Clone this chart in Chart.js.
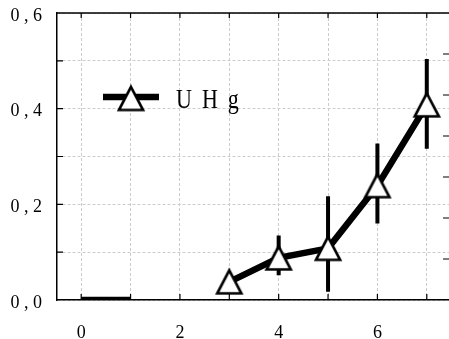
<!DOCTYPE html>
<html>
<head>
<meta charset="utf-8">
<script src="https://cdn.jsdelivr.net/npm/chart.js@4"></script>
<style>
  html, body { margin: 0; padding: 0; background: #fff; }
  #wrap { width: 449px; height: 339px; }
</style>
</head>
<body>
<div id="wrap"><canvas id="chart"></canvas></div>
<script>
// data
var seriesName = 'UHg';
var xValues = [3, 4, 5, 6, 7];
var yValues = [0.038, 0.088, 0.108, 0.239, 0.408];
var errLow = [null, 0.052, 0.017, 0.16, 0.316];
var errHigh = [null, 0.135, 0.217, 0.327, 0.504];
var baseX = [0, 1];
var baseY = [0, 0];
var xLabels = [0, 2, 4, 6];
var yLabels = [0, 0.2, 0.4, 0.6];

// open triangle marker
function makeTriangle() {
    var c = document.createElement('canvas');
    c.width = 32; c.height = 32;
    var g = c.getContext('2d');
    g.beginPath();
    g.moveTo(16, 4.5);
    g.lineTo(28, 27.5);
    g.lineTo(4, 27.5);
    g.closePath();
    g.fillStyle = '#fff';
    g.fill();
    g.lineWidth = 2.7;
    g.strokeStyle = '#000';
    g.stroke();
    return c;
}
var tri = makeTriangle();

var serif = '"Liberation Serif", "Times New Roman", serif';

function noPad(s) {
    s.paddingTop = 0; s.paddingBottom = 0;
    s.paddingLeft = 0; s.paddingRight = 0;
}

var frame = {
    id: 'frame',
    beforeDatasetsDraw(chart) {
        var ctx = chart.ctx, a = chart.chartArea;
        var x = chart.scales.x, y = chart.scales.y, y2 = chart.scales.y2;
        ctx.save();
        ctx.strokeStyle = '#000';
        // top line
        ctx.lineWidth = 1.5;
        ctx.beginPath();
        ctx.moveTo(a.left, a.top);
        ctx.lineTo(a.right, a.top);
        ctx.stroke();
        // inward ticks
        ctx.lineWidth = 1.2;
        ctx.beginPath();
        for (var i = 1; i <= 5; i++) {
            var py = y.getPixelForValue(i / 10);
            ctx.moveTo(a.left, py); ctx.lineTo(a.left + 6, py);
        }
        for (var k = 0; k <= 7; k++) {
            var px = x.getPixelForValue(k);
            ctx.moveTo(px, a.top); ctx.lineTo(px, a.top + 5);
            ctx.moveTo(px, a.bottom); ctx.lineTo(px, a.bottom - 6);
        }
        for (var j = 1; j <= 6; j++) {
            var ry = y2.getPixelForValue(j);
            ctx.moveTo(a.right - 6, ry); ctx.lineTo(a.right, ry);
        }
        ctx.stroke();
        // error bars
        ctx.lineWidth = 4;
        ctx.beginPath();
        for (var n = 0; n < xValues.length; n++) {
            if (errLow[n] == null) continue;
            var ex = x.getPixelForValue(xValues[n]);
            ctx.moveTo(ex, y.getPixelForValue(errLow[n]));
            ctx.lineTo(ex, y.getPixelForValue(errHigh[n]));
        }
        ctx.stroke();
        ctx.restore();
    },
    afterDraw(chart) {
        var ctx = chart.ctx;
        ctx.save();
        // legend
        ctx.strokeStyle = '#000';
        ctx.lineWidth = 6.5;
        ctx.beginPath();
        ctx.moveTo(103, 97);
        ctx.lineTo(159, 97);
        ctx.stroke();
        ctx.drawImage(tri, 131 - 16, 98.5 - 16);
        ctx.fillStyle = '#000';
        ctx.font = '22px ' + serif;
        ctx.letterSpacing = '10px';
        ctx.textBaseline = 'alphabetic';
        ctx.translate(176, 108);
        ctx.scale(1, 1.25);
        ctx.fillText(seriesName, 0, 0);
        ctx.restore();
    }
};

new Chart(document.getElementById('chart'), {
    type: 'line',
    data: {
        datasets: [{
            label: seriesName,
            data: xValues.map(function (v, i) { return { x: v, y: yValues[i] }; }),
            borderColor: '#000',
            borderWidth: 6.5,
            pointStyle: tri,
            pointRadius: 12,
            pointHoverRadius: 12,
            tension: 0
        }, {
            label: 'base',
            data: baseX.map(function (v, i) { return { x: v, y: baseY[i] }; }),
            borderColor: '#000',
            borderWidth: 6.5,
            pointRadius: 0,
            borderCapStyle: 'butt'
        }]
    },
    options: {
        responsive: true,
        maintainAspectRatio: false,
        animation: false,
        events: [],
        layout: { autoPadding: false, padding: { top: 13, left: 0, right: 0, bottom: 0 } },
        plugins: {
            legend: { display: false },
            tooltip: { enabled: false }
        },
        scales: {
            x: {
                type: 'linear',
                min: -0.49,
                max: 7.45,
                afterFit: function (s) { s.height = 39; noPad(s); },
                border: { display: true, color: '#000', width: 1.5, dash: [3, 2] },
                grid: { color: '#cccccc', lineWidth: 1, drawTicks: false },
                ticks: {
                    stepSize: 1,
                    includeBounds: false,
                    autoSkip: false,
                    maxRotation: 0,
                    padding: 22,
                    color: '#000',
                    font: { family: serif, size: 18 },
                    callback: function (v) { return xLabels.indexOf(v) >= 0 ? String(v) : ''; }
                }
            },
            y: {
                min: 0,
                max: 0.6,
                afterFit: function (s) { s.width = 57; noPad(s); },
                border: { display: true, color: '#000', width: 1.5, dash: [3, 2] },
                grid: { color: '#cccccc', lineWidth: 1, drawTicks: false },
                ticks: {
                    stepSize: 0.1,
                    padding: 15,
                    labelOffset: 3,
                    color: '#000',
                    font: { family: serif, size: 18 },
                    callback: function (v) {
                        var r = Math.round(v * 10) / 10;
                        if (yLabels.indexOf(r) < 0) return '';
                        return r.toFixed(1).replace('.', ' , ');
                    }
                }
            },
            y2: {
                display: false,
                position: 'right',
                min: 0,
                max: 7
            }
        }
    },
    plugins: [frame]
});
</script>
</body>
</html>
